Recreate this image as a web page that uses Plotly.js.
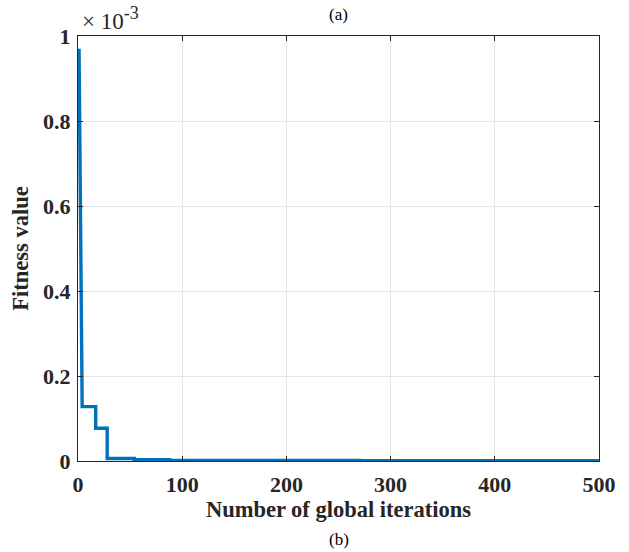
<!DOCTYPE html>
<html>
<head>
<meta charset="utf-8">
<script src="https://cdn.plot.ly/plotly-3.0.1.min.js"></script>
<style>html,body{margin:0;padding:0;background:#fff;}</style>
</head>
<body>
<div id="chart" style="width:629px;height:552px;"></div>
<script>
// Best fitness per iteration (change points; steps are vertical)
const iterations = [1, 2, 3, 4, 17, 17, 28, 28, 54, 54, 88, 88, 270, 270, 454, 454, 500];
// Fitness values in units of 10^-3
const fitness = [0.97, 0.62, 0.3, 0.128, 0.128, 0.077, 0.077, 0.006, 0.006, 0.003, 0.003, 0.0015, 0.0015, 0.001, 0.001, 0.0005, 0.0005];
const xTicks = [0, 100, 200, 300, 400, 500];
const yTicks = [0, 0.2, 0.4, 0.6, 0.8, 1];
const yTickText = ['0', '0.2', '0.4', '0.6', '0.8', '1'];

const font = 'Liberation Serif';

const trace = {
  x: iterations, y: fitness, type: 'scatter', mode: 'lines',
  line: {color: '#0072BD', width: 3.4},
  hoverinfo: 'skip'
};

const axisCommon = {
  showline: true, linecolor: '#262626', linewidth: 1.2, mirror: 'ticks',
  ticks: 'inside', ticklen: 5, tickwidth: 1, tickcolor: '#262626',
  showgrid: true, gridcolor: '#e6e6e6', gridwidth: 1, zeroline: false,
  tickfont: {family: font, size: 22, color: '#262626', weight: 'bold'}
};

const layout = {
  width: 629, height: 552,
  margin: {l: 78, r: 30, t: 36, b: 91},
  paper_bgcolor: '#fff', plot_bgcolor: '#fff',
  showlegend: false,
  font: {family: font, color: '#262626'},
  xaxis: Object.assign({}, axisCommon, {
    range: [0, 500], tickvals: xTicks, ticklabelstandoff: 3,
    title: {text: '<b>Number of global iterations</b>', font: {family: font, size: 22.5, color: '#262626'}, standoff: 5}
  }),
  yaxis: Object.assign({}, axisCommon, {
    range: [0, 1], tickvals: yTicks, ticktext: yTickText, ticklabelstandoff: 2,
    title: {text: '<b>Fitness value</b>', font: {family: font, size: 22.5, color: '#262626'}, standoff: 8}
  }),
  annotations: [
    {xref: 'paper', yref: 'paper', x: 0, y: 1, xanchor: 'left', yanchor: 'bottom', yshift: 0, xshift: 2,
     text: '× 10<sup><span style="font-size:18px">-3</span></sup>', showarrow: false, font: {family: font, size: 23, color: '#262626'}},
    {xref: 'paper', yref: 'paper', x: 0.5, y: 1, xanchor: 'center', yanchor: 'bottom', yshift: 10,
     text: '(a)', showarrow: false, font: {family: font, size: 17, color: '#000'}},
    {xref: 'paper', yref: 'paper', x: 0.5, y: 0, xanchor: 'center', yanchor: 'bottom', yshift: -90,
     text: '(b)', showarrow: false, font: {family: font, size: 17, color: '#000'}}
  ]
};

Plotly.newPlot('chart', [trace], layout, {displayModeBar: false, staticPlot: true});
</script>
</body>
</html>
